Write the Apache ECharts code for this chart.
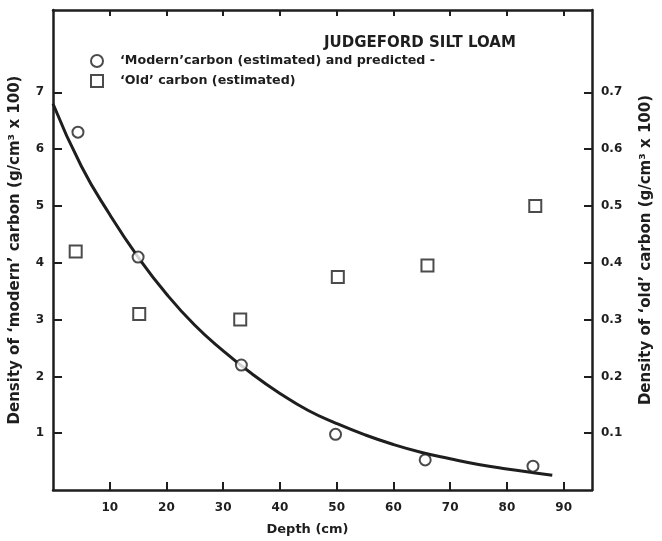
<!DOCTYPE html>
<html>
<head>
<meta charset="utf-8">
<script src="https://cdn.jsdelivr.net/npm/echarts@6/dist/echarts.min.js"></script>
<style>
html,body{margin:0;padding:0;background:#fff;}
#chart{width:662px;height:541px;}
</style>
</head>
<body>
<div id="chart"></div>
<script>
// ---- data ----
const titleText = 'JUDGEFORD SILT LOAM';
const modernName = '\u2018Modern\u2019carbon (estimated) and predicted -';
const oldName = '\u2018Old\u2019 carbon (estimated)';

const depthModern = [4.4, 15.0, 33.2, 49.8, 65.6, 84.6];
const modernCarbon = [6.3, 4.1, 2.2, 0.98, 0.53, 0.42];

const depthOld = [4.0, 15.2, 33.0, 50.2, 66.0, 85.0];
const oldCarbon = [0.42, 0.31, 0.30, 0.375, 0.395, 0.50];

const curveDepth = [0, 5, 10, 15, 20, 25, 30, 35, 40, 45, 50, 55, 60, 65, 70, 75, 80, 85, 88];
const curveValue = [6.8, 5.7, 4.85, 4.1, 3.45, 2.9, 2.45, 2.05, 1.7, 1.4, 1.17, 0.97, 0.8, 0.66, 0.55, 0.45, 0.37, 0.3, 0.26];

const xTicks = [10, 20, 30, 40, 50, 60, 70, 80, 90];
const leftTicks = [1, 2, 3, 4, 5, 6, 7];
const rightTicks = [0.1, 0.2, 0.3, 0.4, 0.5, 0.6, 0.7];

// ---- chart ----
const ink = '#1e1e1e';
const font = 'DejaVu Sans';
const chart = echarts.init(document.getElementById('chart'), null, {renderer: 'canvas'});

const zip = (a, b) => a.map((v, i) => [v, b[i]]);

const axisLineStyle = {show: true, onZero: false, lineStyle: {color: ink, width: 2.5}};

chart.setOption({
  backgroundColor: '#ffffff',
  animation: false,
  title: {
    text: titleText,
    left: 319,
    top: 31,
    textStyle: {fontFamily: font, fontWeight: 'bold', fontSize: 15, color: ink}
  },
  legend: {
    orient: 'vertical',
    left: 85,
    top: 49,
    itemWidth: 12,
    itemHeight: 12,
    itemGap: 6,
    data: [
      {name: modernName, icon: 'circle'},
      {name: oldName, icon: 'rect'}
    ],
    itemStyle: {color: '#fff', borderColor: ink, borderWidth: 2},
    textStyle: {fontFamily: font, fontWeight: 'bold', fontSize: 12.7, color: ink, padding: [0, 0, 0, 12]}
  },
  grid: {left: 50.5, right: 64, top: 10, bottom: 51},
  xAxis: [
    {
      type: 'value', position: 'bottom', min: 0, max: 95,
      axisLine: axisLineStyle,
      axisTick: {show: true, inside: true, length: 8, customValues: xTicks, lineStyle: {color: ink, width: 2}},
      axisLabel: {customValues: xTicks, margin: 12, fontFamily: font, fontWeight: 'bold', fontSize: 12, color: ink},
      splitLine: {show: false},
      name: 'Depth (cm)', nameLocation: 'middle', nameGap: 33,
      nameTextStyle: {fontFamily: font, fontWeight: 'bold', fontSize: 13, color: ink, padding: [0, 30, 0, 0]}
    },
    {
      type: 'value', position: 'top', min: 0, max: 95,
      axisLine: axisLineStyle,
      axisTick: {show: true, inside: true, length: 6, customValues: xTicks, lineStyle: {color: ink, width: 2}},
      axisLabel: {show: false},
      splitLine: {show: false}
    }
  ],
  yAxis: [
    {
      type: 'value', position: 'left', min: 0, max: 8.45,
      axisLine: axisLineStyle,
      axisTick: {show: true, inside: true, length: 9, customValues: leftTicks, lineStyle: {color: ink, width: 2}},
      axisLabel: {customValues: leftTicks, margin: 9, fontFamily: font, fontWeight: 'bold', fontSize: 12, color: ink},
      splitLine: {show: false},
      name: 'Density of \u2018modern\u2019 carbon (g/cm\u00b3 x 100)',
      nameLocation: 'middle', nameGap: 30, nameRotate: 90,
      nameTextStyle: {fontFamily: font, fontWeight: 'bold', fontSize: 15, color: ink}
    },
    {
      type: 'value', position: 'right', min: 0, max: 0.845,
      axisLine: axisLineStyle,
      axisTick: {show: true, inside: true, length: 8, customValues: rightTicks, lineStyle: {color: ink, width: 2}},
      axisLabel: {customValues: rightTicks, margin: 9, fontFamily: font, fontWeight: 'bold', fontSize: 12, color: ink,
        formatter: v => v.toFixed(1)},
      splitLine: {show: false},
      name: 'Density of \u2018old\u2019 carbon (g/cm\u00b3 x 100)',
      nameLocation: 'middle', nameGap: 47, nameRotate: 90,
      nameTextStyle: {fontFamily: font, fontWeight: 'bold', fontSize: 15, color: ink}
    }
  ],
  series: [
    {
      name: 'predicted',
      type: 'line',
      xAxisIndex: 0, yAxisIndex: 0,
      data: zip(curveDepth, curveValue),
      smooth: true,
      showSymbol: false,
      lineStyle: {color: ink, width: 3},
      z: 2
    },
    {
      name: modernName,
      type: 'scatter',
      xAxisIndex: 0, yAxisIndex: 0,
      data: zip(depthModern, modernCarbon),
      symbol: 'circle',
      symbolSize: 11,
      itemStyle: {color: '#fff', borderColor: ink, borderWidth: 2},
      z: 3
    },
    {
      name: oldName,
      type: 'scatter',
      xAxisIndex: 0, yAxisIndex: 1,
      data: zip(depthOld, oldCarbon),
      symbol: 'rect',
      symbolSize: 12,
      itemStyle: {color: '#fff', borderColor: ink, borderWidth: 2},
      z: 3
    }
  ]
});
</script>
</body>
</html>
